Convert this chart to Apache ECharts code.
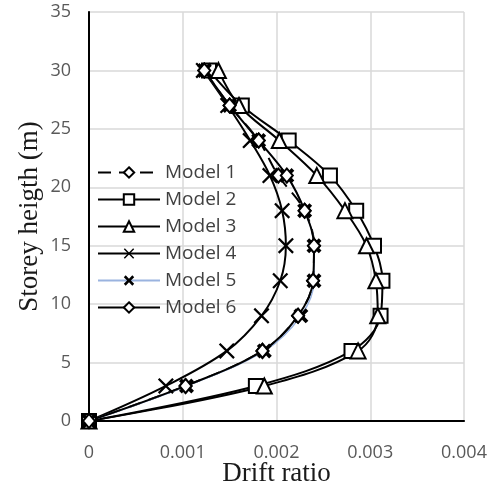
<!DOCTYPE html>
<html style="height: 100%">
  <head>
    <meta charset="utf-8">
  </head>
  <body style="height: 100%; margin: 0">
    <div id="container" style="width: 495px; height: 485px"></div>
    <script type="text/javascript" src="https://cdn.jsdelivr.net/npm/echarts@6/dist/echarts.min.js"></script>
    <script type="text/javascript">
      // storey heights (m)
      let heights = [0, 3, 6, 9, 12, 15, 18, 21, 24, 27, 30];
      // drift ratio per model
      let model1 = [0, 0.00103, 0.00185, 0.00223, 0.00239, 0.0024, 0.0023, 0.00202, 0.00181, 0.0015, 0.00123];
      let model2 = [0, 0.00178, 0.0028, 0.00311, 0.00313, 0.00304, 0.00285, 0.00257, 0.00213, 0.00163, 0.00128];
      let model3 = [0, 0.00187, 0.00287, 0.00308, 0.00306, 0.00296, 0.00273, 0.00243, 0.00203, 0.0016, 0.00138];
      let model4 = [0, 0.00082, 0.00147, 0.00184, 0.00204, 0.0021, 0.00206, 0.00193, 0.00172, 0.00148, 0.00122];
      let model5 = [0, 0.00104, 0.00187, 0.00226, 0.0024, 0.0024, 0.0023, 0.00211, 0.00181, 0.0015, 0.00123];
      let model6 = [0, 0.00103, 0.00185, 0.00223, 0.00239, 0.0024, 0.0023, 0.00211, 0.00181, 0.0015, 0.00123];
      let modelNames = ['Model 1', 'Model 2', 'Model 3', 'Model 4', 'Model 5', 'Model 6'];

      let xThin = 'path://M0,1L1,0L5,4L9,0L10,1L6,5L10,9L9,10L5,6L1,10L0,9L4,5Z';
      let xBold = 'path://M0,1.8L1.8,0L5,3.2L8.2,0L10,1.8L6.8,5L10,8.2L8.2,10L5,6.8L1.8,10L0,8.2L3.2,5Z';

      function pairs(vals) {
        return vals.map(function (v, i) { return [v, heights[i]]; });
      }

      let dom = document.getElementById('container');
      let myChart = echarts.init(dom);

      let hollow = { color: '#fff', borderColor: '#000', borderWidth: 2 };

      function makeSeries(name, vals, symbol, size, itemStyle, lineStyle) {
        return {
          name: name,
          type: 'line',
          data: pairs(vals),
          smooth: 0.35,
          symbol: symbol,
          symbolSize: size,
          itemStyle: itemStyle,
          lineStyle: lineStyle
        };
      }

      let option = {
        animation: false,
        grid: { left: 89, right: 31, top: 12, bottom: 64, outerBoundsMode: 'none', containLabel: false },
        legend: {
          orient: 'vertical',
          left: 97,
          top: 163,
          padding: 0,
          itemWidth: 62,
          itemHeight: 13,
          itemGap: 8,
          data: modelNames,
          textStyle: { fontFamily: 'Open Sans', fontSize: 19, color: '#404040', lineHeight: 18 }
        },
        xAxis: [{
          type: 'value',
          min: 0,
          max: 0.004,
          interval: 0.001,
          name: 'Drift ratio',
          nameLocation: 'middle',
          nameGap: 39,
          nameMoveOverlap: false,
          nameTextStyle: { fontFamily: 'Liberation Serif', fontSize: 27, color: '#1a1a1a' },
          axisLine: { lineStyle: { color: '#868686', width: 1.5 } },
          axisTick: { show: false },
          axisLabel: { margin: 23, fontFamily: 'Open Sans', fontSize: 18, color: '#595959' },
          splitLine: { lineStyle: { color: '#d9d9d9', width: 1.5 } }
        }, {
          type: 'value',
          position: 'top',
          min: 0,
          max: 0.004,
          axisLine: { show: true, lineStyle: { color: '#000', width: 2 } },
          axisTick: { show: false },
          axisLabel: { show: false },
          splitLine: { show: false }
        }],
        yAxis: [{
          type: 'value',
          min: 0,
          max: 35,
          interval: 5,
          name: 'Storey heigth (m)',
          nameLocation: 'middle',
          nameGap: 46,
          nameMoveOverlap: false,
          nameTextStyle: { fontFamily: 'Liberation Serif', fontSize: 27, color: '#1a1a1a' },
          axisLine: { show: true, lineStyle: { color: '#868686', width: 1.5 } },
          axisTick: { show: false },
          axisLabel: { margin: 18, fontFamily: 'Open Sans', fontSize: 18, color: '#595959' },
          splitLine: { lineStyle: { color: '#d9d9d9', width: 1.5 } }
        }, {
          type: 'value',
          position: 'right',
          min: 0,
          max: 35,
          axisLine: { show: true, lineStyle: { color: '#000', width: 2 } },
          axisTick: { show: false },
          axisLabel: { show: false },
          splitLine: { show: false }
        }],
        series: [
          makeSeries('Model 1', model1, 'diamond', [12, 14], hollow, { color: '#000', width: 2, type: [13, 8] }),
          makeSeries('Model 2', model2, 'rect', 14, hollow, { color: '#000', width: 2 }),
          makeSeries('Model 3', model3, 'triangle', 15, hollow, { color: '#000', width: 2 }),
          makeSeries('Model 4', model4, xThin, 16, { color: '#000', borderWidth: 0 }, { color: '#000', width: 2 }),
          makeSeries('Model 5', model5, xBold, 15, { color: '#000', borderWidth: 0 }, { color: '#9ab3df', width: 1.5 }),
          makeSeries('Model 6', model6, 'diamond', [12, 14], hollow, { color: '#000', width: 2 })
        ]
      };

      myChart.setOption(option);
    </script>
  </body>
</html>
